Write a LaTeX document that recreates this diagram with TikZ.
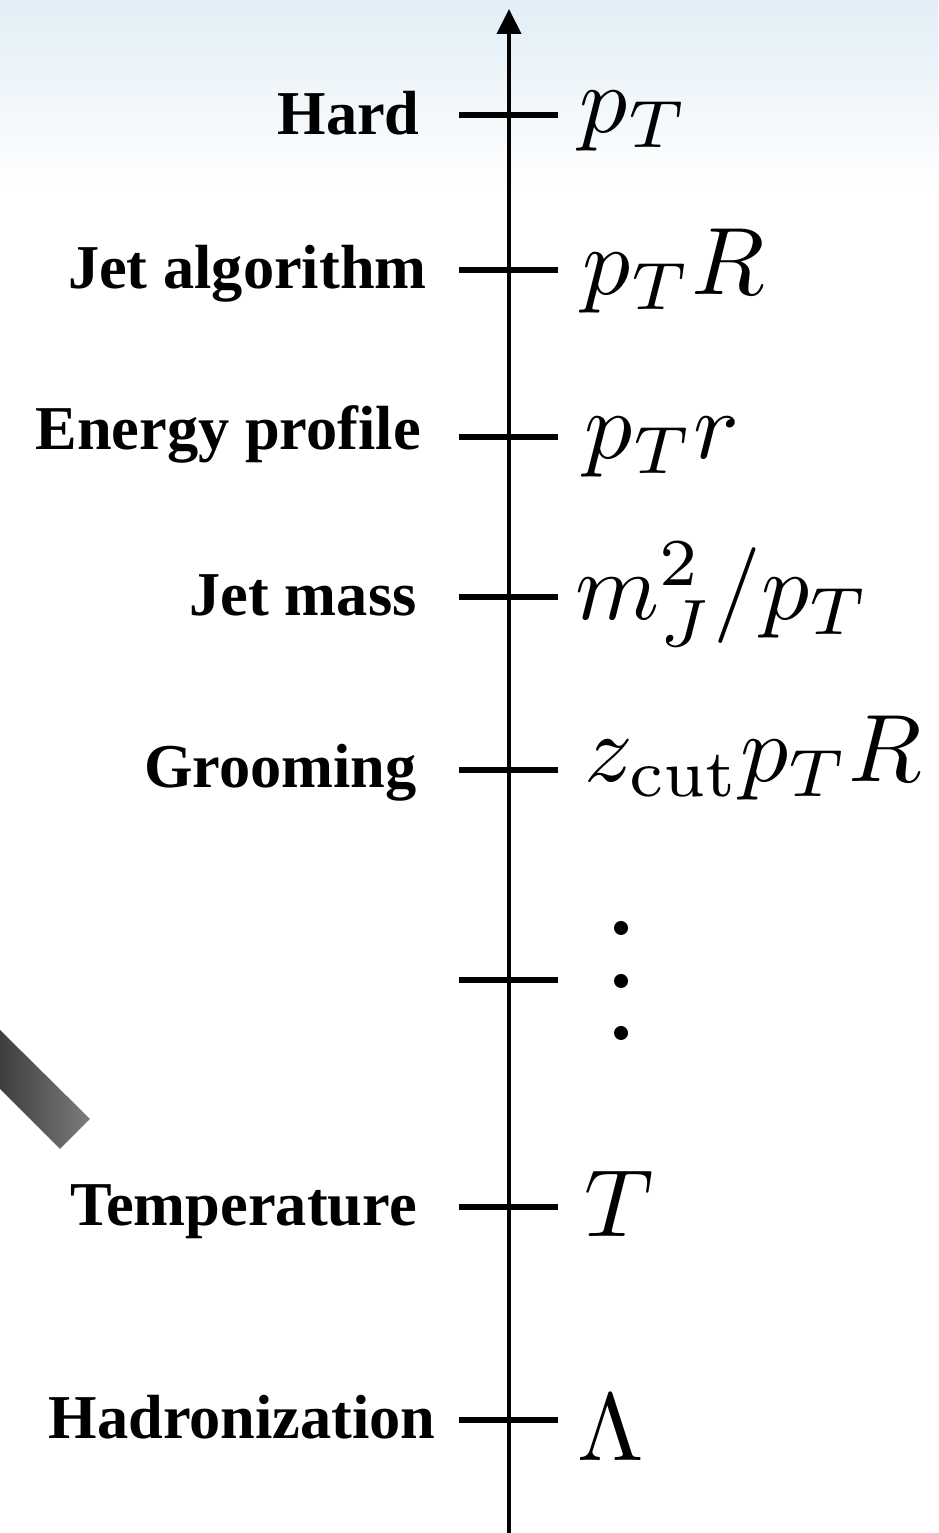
\documentclass[tikz,border=0pt]{standalone}
\usepackage{fontspec}
\newfontfamily\labelfont{Liberation Serif}
\usepackage{tikz}
\usetikzlibrary{arrows.meta, calc}
\definecolor{skyfade}{RGB}{226,238,246}
\definecolor{bardark}{HTML}{3E3E3E}
\definecolor{barlight}{HTML}{7C7C7C}
\tikzset{
  scaletick/.style={line width=3pt},
  physlabel/.style={anchor=base east, inner sep=0pt, font=\labelfont\fontsize{35.5}{40}\selectfont\bfseries},
  scalemath/.style={anchor=base west, inner sep=0pt, font=\fontsize{10}{12}\selectfont, scale=5.45, transform shape}
}
\begin{document}
\begin{tikzpicture}[x=0.02cm, y=0.02cm]
\useasboundingbox (0,0) rectangle (938,1533);
% sky at the top
\shade[top color=skyfade, bottom color=white] (0,1343) rectangle (938,1533);
% grey bar at the left edge
\shade[left color=bardark, right color=barlight]
  (0,503) -- (90,414) -- (60,384) -- (0,444) -- cycle;
% energy axis
\coordinate (axbot) at (509,0);
\coordinate (axtop) at (509,1524);
\draw[line width=2.2pt, -{Triangle[length=25*0.02cm, width=24*0.02cm]}] (axbot) -- (axtop);
\foreach \y/\n in {1418/hard,1263/jetalg,1096/eprof,936/jmass,763/groom,553/dots,326/temp,113/hadr} {
  \coordinate (\n) at (509,\y);
  \draw[scaletick] ($(\n)+(-50,0)$) -- ($(\n)+(49,0)$);
}
% physics on the left
\node[physlabel] (lhard)   at (420,1398) {Hard};
\node[physlabel] (ljetalg) at (427,1244) {Jet algorithm};
\node[physlabel] (leprof)  at (421,1083) {Energy profile};
\node[physlabel] (ljmass)  at (417,917)  {Jet mass};
\node[physlabel] (lgroom)  at (417,745)  {Grooming};
\node[physlabel] (ltemp)   at (417,307)  {Temperature};
\node[physlabel] (lhadr)   at (436,94)   {Hadronization};
% scales on the right
\node[scalemath] (mhard)   at (578,1400) {$p_T$};
\node[scalemath] (mjetalg) at (581,1238) {$p_TR$};
\node[scalemath] (meprof)  at (583,1074) {$p_Tr$};
\node[scalemath] (mjmass)  at (574,913)  {$m_J^2/p_T$};
\node[scalemath] (mgroom)  at (583,751)  {$z_{\mathrm{cut}}p_TR$};
\node[scalemath] (mtemp)   at (583,296)  {$T$};
\node[scalemath] (mhadr)   at (576,72)   {$\Lambda$};
% vertical dots
\foreach \y in {605,552,500}
  \fill (621,\y) circle (7);
\end{tikzpicture}
\end{document}
